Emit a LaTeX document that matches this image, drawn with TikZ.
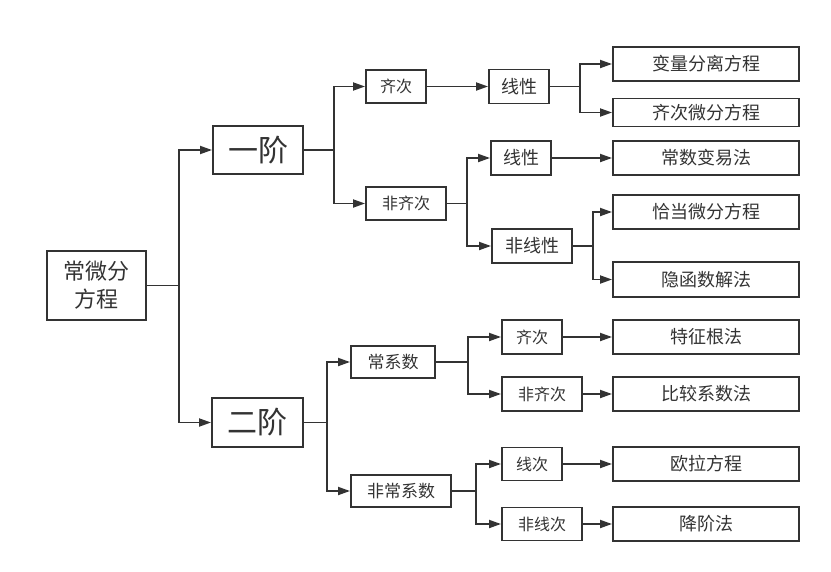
\documentclass[tikz,border=0pt]{standalone}
\usepackage{fontspec}
\setmainfont{Noto Sans CJK SC}
\usetikzlibrary{arrows.meta}
\definecolor{ink}{HTML}{333333}
\begin{document}
\begin{tikzpicture}[x=1pt,y=-1pt,
  box/.style={draw=ink,line width=1.9pt,text=ink,inner sep=0pt,anchor=center,align=center},
  sm/.style={box,font=\fontsize{16}{18}\selectfont,minimum height=33pt},
  rt/.style={box,font=\fontsize{18}{20}\selectfont,minimum width=186pt,minimum height=34pt},
  big/.style={box,font=\fontsize{30}{32}\selectfont,minimum width=90pt,minimum height=48pt},
  arr/.style={draw=ink,line width=1.8pt,-{Triangle[length=12pt,width=8pt]}}]
\useasboundingbox (0,0) rectangle (831,571);
% nodes
\node[box,font=\fontsize{22}{28}\selectfont,minimum width=99pt,minimum height=69pt] (root) at (96.5,285.5) {常微分\\方程};
\node[big] (o1) at (258,150) {一阶};
\node[big,minimum width=91pt,minimum height=49pt] (o2) at (257.5,422.5) {二阶};
\node[sm,minimum width=60pt] (a1) at (396,86.5) {齐次};
\node[sm,minimum width=80pt] (a2) at (406,203.5) {非齐次};
\node[sm,font=\fontsize{18}{20}\selectfont,minimum width=60pt,minimum height=34pt] (b1) at (519,86.5) {线性};
\node[sm,font=\fontsize{18}{20}\selectfont,minimum width=60pt,minimum height=34pt] (b2) at (521,158) {线性};
\node[sm,font=\fontsize{18}{20}\selectfont,minimum width=80pt,minimum height=34pt] (b3) at (532,246) {非线性};
\node[rt] (r1) at (706,64) {变量分离方程};
\node[rt,minimum height=28pt] (r2) at (706,112.5) {齐次微分方程};
\node[rt] (r3) at (706,158) {常数变易法};
\node[rt] (r4) at (706,212) {恰当微分方程};
\node[rt,minimum height=35pt] (r5) at (706,279.5) {隐函数解法};
\node[sm,font=\fontsize{17}{19}\selectfont,minimum width=84pt,minimum height=32pt] (c1) at (393,362) {常系数};
\node[sm,font=\fontsize{17}{19}\selectfont,minimum width=100pt,minimum height=32pt] (c2) at (401,491) {非常系数};
\node[sm,minimum width=60pt,minimum height=34pt] (d1) at (532,337) {齐次};
\node[sm,minimum width=80pt,minimum height=34pt] (d2) at (542,394) {非齐次};
\node[sm,minimum width=60pt] (d3) at (532,464) {线次};
\node[sm,minimum width=80pt] (d4) at (542,524) {非线次};
\node[rt] (r6) at (706,337) {特征根法};
\node[rt] (r7) at (706,394) {比较系数法};
\node[rt] (r8) at (706,464) {欧拉方程};
\node[rt] (r9) at (706,524) {降阶法};
% junction columns
\coordinate (j0) at (179,0);
\coordinate (j1) at (334,0);
\coordinate (j2) at (327,0);
\coordinate (j3) at (580,0);
\coordinate (j4) at (467,0);
\coordinate (j5) at (593,0);
\coordinate (j6) at (468,0);
\coordinate (j7) at (476,0);
% connectors
\draw[arr] (root.east) -- (root.east -| j0) |- (o1.west);
\draw[arr] (root.east) -- (root.east -| j0) |- (o2.west);
\draw[arr] (o1.east) -- (o1.east -| j1) |- (a1.west);
\draw[arr] (o1.east) -- (o1.east -| j1) |- (a2.west);
\draw[arr] (a1.east) -- (a1.east -| b1.west);
\draw[arr] (b1.east) -- (b1.east -| j3) |- (r1.west);
\draw[arr] (b1.east) -- (b1.east -| j3) |- (r2.west);
\draw[arr] (a2.east) -- (a2.east -| j4) |- (b2.west);
\draw[arr] (a2.east) -- (a2.east -| j4) |- (b3.west);
\draw[arr] (b2.east) -- (b2.east -| r3.west);
\draw[arr] (b3.east) -- (b3.east -| j5) |- (r4.west);
\draw[arr] (b3.east) -- (b3.east -| j5) |- (r5.west);
\draw[arr] (o2.east) -- (o2.east -| j2) |- (c1.west);
\draw[arr] (o2.east) -- (o2.east -| j2) |- (c2.west);
\draw[arr] (c1.east) -- (c1.east -| j6) |- (d1.west);
\draw[arr] (c1.east) -- (c1.east -| j6) |- (d2.west);
\draw[arr] (c2.east) -- (c2.east -| j7) |- (d3.west);
\draw[arr] (c2.east) -- (c2.east -| j7) |- (d4.west);
\draw[arr] (d1.east) -- (d1.east -| r6.west);
\draw[arr] (d2.east) -- (d2.east -| r7.west);
\draw[arr] (d3.east) -- (d3.east -| r8.west);
\draw[arr] (d4.east) -- (d4.east -| r9.west);
\end{tikzpicture}
\end{document}
